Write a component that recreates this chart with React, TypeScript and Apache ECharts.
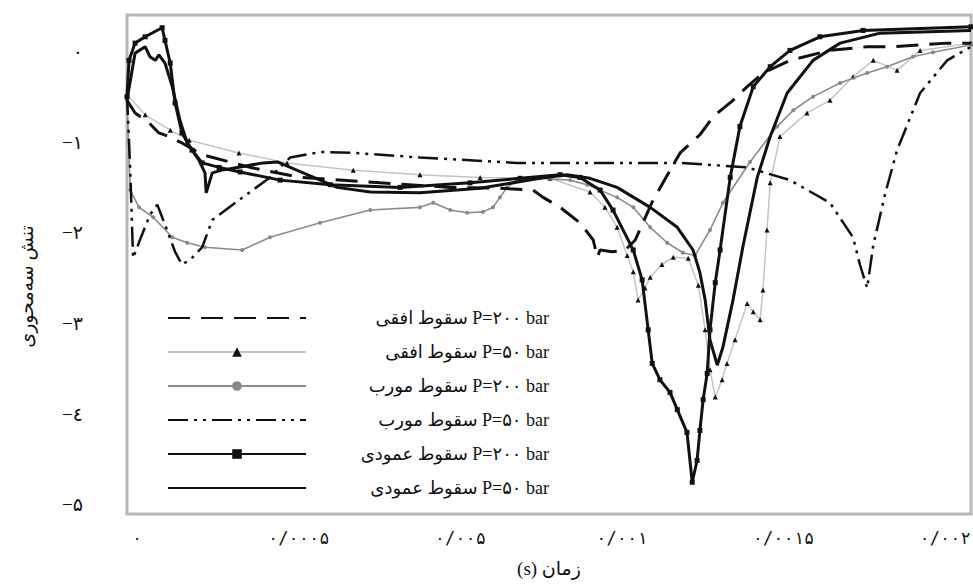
import { useEffect, useRef } from "react";
import * as echarts from "echarts";

const FONT = "'Liberation Serif', 'DejaVu Sans', serif";
const DIGIT_FONT = "'DejaVu Sans Mono', 'DejaVu Sans', serif";

const seriesNames = [
  "سقوط افقی P=۲۰۰ bar",
  "سقوط افقی P=۵۰ bar",
  "سقوط مورب P=۲۰۰ bar",
  "سقوط مورب P=۵۰ bar",
  "سقوط عمودی P=۲۰۰ bar",
  "سقوط عمودی P=۵۰ bar",
];

const xTickValues = [0, 0.0004, 0.0008, 0.0012, 0.0016, 0.002];
const xTickLabels = ["۰", "۰/۰۰۰۵", "۰/۰۰۵", "۰/۰۰۱", "۰/۰۰۱۵", "۰/۰۰۲"];
const yTickValues = [0, -1, -2, -3, -4, -5];
const yTickLabels = ["۰", "−۱", "−۲", "−۳", "−٤", "−۵"];

const xAxisTitle = "\u2067زمان (s)\u2069";
const yAxisTitle = "تنش سه‌محوری";

// horizontal fall, P=200 bar
const horizontal200 = [
  [-0.000025, -0.54], [-0.000005, -0.68], [0.00003, -0.79], [0.000054, -0.9],
  [0.000079, -0.94], [0.000111, -1.01], [0.000161, -1.14], [0.00028, -1.28],
  [0.000403, -1.39], [0.000601, -1.45], [0.000775, -1.5], [0.000898, -1.51],
  [0.00098, -1.53], [0.001005, -1.61], [0.001047, -1.72], [0.001096, -1.89],
  [0.001129, -2.08], [0.001139, -2.27], [0.001146, -2.19], [0.001176, -2.21],
  [0.001208, -2.19], [0.001233, -2.08], [0.001277, -1.64], [0.001344, -1.12],
  [0.001393, -0.92], [0.001426, -0.72], [0.001475, -0.54], [0.00151, -0.39],
  [0.001549, -0.24], [0.001616, -0.1], [0.001715, 0.01], [0.001807, 0.05],
  [0.001871, 0.05], [0.002005, 0.09], [0.002064, 0.09],
];

// horizontal fall, P=50 bar
const horizontal50 = [
  [-0.000025, -0.48], [0.00002, -0.7], [0.000082, -0.87], [0.000129, -0.98],
  [0.000252, -1.12], [0.000371, -1.23], [0.000535, -1.31], [0.0007, -1.36],
  [0.000849, -1.39], [0.001022, -1.4], [0.001121, -1.55], [0.001158, -1.72],
  [0.001188, -1.94], [0.001213, -2.25], [0.001228, -2.43], [0.00124, -2.74],
  [0.001257, -2.61], [0.00127, -2.49], [0.001299, -2.35], [0.001327, -2.27],
  [0.001364, -2.28], [0.001389, -2.58], [0.001406, -3.07], [0.001418, -3.51],
  [0.001431, -3.81], [0.001448, -3.62], [0.00146, -3.44], [0.00148, -3.18],
  [0.00151, -2.78], [0.001525, -2.87], [0.001542, -2.96], [0.001549, -2.63],
  [0.001559, -1.97], [0.001567, -1.45], [0.001591, -0.94], [0.001658, -0.68],
  [0.001715, -0.54], [0.001772, -0.28], [0.001822, -0.1], [0.001881, -0.21],
  [0.001938, 0.01], [0.002064, 0.09],
];

// oblique fall, P=200 bar
const oblique200 = [
  [-0.000025, -0.54], [-0.000017, -1.53], [0.000005, -1.72], [0.00004, -1.83],
  [0.000087, -2.05], [0.000124, -2.11], [0.000168, -2.16], [0.00026, -2.19],
  [0.000329, -2.05], [0.000453, -1.89], [0.000577, -1.75], [0.0007, -1.72],
  [0.000733, -1.67], [0.000775, -1.75], [0.000817, -1.78], [0.000856, -1.77],
  [0.000881, -1.72], [0.000898, -1.61], [0.000916, -1.5], [0.00094, -1.42],
  [0.000997, -1.4], [0.001072, -1.42], [0.001114, -1.47], [0.001188, -1.61],
  [0.001228, -1.72], [0.00127, -1.94], [0.001312, -2.11], [0.001351, -2.22],
  [0.001381, -2.25], [0.001418, -1.97], [0.00145, -1.67], [0.001517, -1.22],
  [0.001584, -0.83], [0.001624, -0.65], [0.001673, -0.5], [0.00174, -0.35],
  [0.001807, -0.24], [0.001856, -0.17], [0.00192, -0.06], [0.00197, -0.01],
  [0.002064, 0.07],
];

// oblique fall, P=50 bar
const oblique50 = [
  [-0.000025, -0.48], [-0.000017, -1.31], [-0.00001, -2.28], [0.000007, -2.08],
  [0.000032, -1.8], [0.00005, -1.69], [0.000069, -1.91], [0.000094, -2.21],
  [0.000111, -2.35], [0.000131, -2.3], [0.000161, -2.16], [0.000186, -1.86],
  [0.000252, -1.64], [0.000329, -1.39], [0.000379, -1.17], [0.000453, -1.11],
  [0.000535, -1.12], [0.0007, -1.17], [0.00094, -1.23], [0.001146, -1.23],
  [0.001344, -1.23], [0.00151, -1.28], [0.001616, -1.42], [0.001715, -1.67],
  [0.001772, -2.05], [0.001789, -2.35], [0.001807, -2.61], [0.001822, -2.14],
  [0.001851, -1.58], [0.001881, -1.09], [0.001938, -0.46], [0.002005, -0.1],
  [0.002064, 0.05],
];

// vertical fall, P=200 bar
const vertical200 = [
  [-0.000025, -0.5], [-0.00002, -0.1], [-0.000005, 0.09], [0.00002, 0.16],
  [0.000062, 0.26], [0.000069, 0.12], [0.000082, -0.13], [0.000094, -0.57],
  [0.000111, -0.9], [0.000136, -1.09], [0.000161, -1.23], [0.000203, -1.28],
  [0.000255, -1.33], [0.000354, -1.42], [0.000478, -1.47], [0.000651, -1.5],
  [0.000824, -1.45], [0.000948, -1.4], [0.001047, -1.36], [0.001096, -1.39],
  [0.001146, -1.53], [0.001178, -1.75], [0.001228, -2.19], [0.00125, -2.52],
  [0.001265, -3.07], [0.001275, -3.44], [0.001294, -3.62], [0.001319, -3.76],
  [0.001337, -3.95], [0.001361, -4.2], [0.001374, -4.75], [0.001386, -4.51],
  [0.001393, -4.18], [0.001401, -3.84], [0.001411, -3.55], [0.001418, -3.07],
  [0.001431, -2.55], [0.001443, -2.19], [0.001468, -1.39], [0.001492, -0.83],
  [0.001525, -0.39], [0.001567, -0.17], [0.001616, 0.01], [0.00169, 0.16],
  [0.001797, 0.23], [0.002064, 0.27],
];

// vertical fall, P=50 bar
const vertical50 = [
  [-0.000025, -0.54], [-0.000005, -0.02], [0.00002, 0.05], [0.000032, -0.06],
  [0.000045, -0.1], [0.000054, -0.04], [0.000069, -0.13], [0.000087, -0.39],
  [0.000106, -0.76], [0.000124, -1.01], [0.000153, -1.2], [0.000168, -1.34],
  [0.000171, -1.56], [0.000186, -1.34], [0.00021, -1.31], [0.000248, -1.28],
  [0.000312, -1.23], [0.000347, -1.22], [0.000411, -1.34], [0.000495, -1.5],
  [0.000577, -1.55], [0.0007, -1.56], [0.000849, -1.51], [0.000997, -1.4],
  [0.001064, -1.36], [0.001121, -1.4], [0.001188, -1.5], [0.00127, -1.72],
  [0.001337, -1.94], [0.001376, -2.19], [0.001393, -2.44], [0.001406, -2.74],
  [0.001418, -3.18], [0.001436, -3.46], [0.00145, -3.26], [0.001475, -2.74],
  [0.0015, -2.14], [0.001535, -1.39], [0.001567, -0.94], [0.001609, -0.46],
  [0.001673, -0.1], [0.00174, 0.09], [0.001839, 0.2], [0.002064, 0.23],
];

function lookup(values: number[], labels: string[], v: number) {
  const i = values.findIndex((t) => Math.abs(t - v) < 1e-9);
  return i >= 0 ? labels[i] : "";
}

export default function App() {
  const ref = useRef<HTMLDivElement>(null);

  useEffect(() => {
    if (!ref.current) return;
    const chart = echarts.init(ref.current, undefined, { renderer: "svg" });
    const noMarker = { itemStyle: { opacity: 0 } };
    const option: any = {
      animation: false,
      backgroundColor: "#ffffff",
      textStyle: { fontFamily: FONT },
      grid: {
        left: 127,
        right: 2,
        top: 15,
        bottom: 71,
        show: true,
        borderColor: "#b8b8b8",
        borderWidth: 3,
        backgroundColor: "transparent",
        outerBoundsMode: "none",
      },
      xAxis: {
        type: "value",
        min: -0.000025,
        max: 0.002064,
        name: xAxisTitle,
        nameLocation: "middle",
        nameGap: 45,
        nameTextStyle: { fontFamily: FONT, fontSize: 19, color: "#111" },
        axisLine: { show: false },
        axisTick: { show: false },
        splitLine: { show: false },
        axisLabel: {
          customValues: xTickValues,
          formatter: (v: number) => lookup(xTickValues, xTickLabels, v),
          fontFamily: DIGIT_FONT,
          fontSize: 17,
          color: "#111",
          margin: 15,
        },
      },
      yAxis: {
        type: "value",
        min: -5.1,
        max: 0.4,
        name: yAxisTitle,
        nameLocation: "middle",
        nameGap: 91,
        nameTextStyle: { fontFamily: FONT, fontSize: 19, color: "#111", padding: [0, 44, 0, 0] },
        axisLine: { show: false },
        axisTick: { show: false },
        splitLine: { show: false },
        axisLabel: {
          customValues: yTickValues,
          formatter: (v: number) => lookup(yTickValues, yTickLabels, v),
          fontFamily: FONT,
          fontSize: 19,
          color: "#111",
          margin: 44,
          align: "right",
        },
      },
      legend: {
        orient: "vertical",
        left: 162,
        top: 303,
        itemWidth: 138,
        itemHeight: 12,
        itemGap: 14,
        selectedMode: false,
        data: [
          { name: seriesNames[0], ...noMarker },
          { name: seriesNames[1] },
          { name: seriesNames[2] },
          { name: seriesNames[3], ...noMarker },
          { name: seriesNames[4] },
          { name: seriesNames[5], ...noMarker },
        ],
        formatter: (n: string) => `{t|${n}}`,
        textStyle: {
          rich: {
            t: {
              width: 238,
              height: 20,
              align: "right",
              fontSize: 18,
              fontFamily: FONT,
              color: "#111",
              lineHeight: 20,
            },
          },
        },
      },
      series: [
        {
          name: seriesNames[1],
          type: "line",
          data: horizontal50,
          symbol: "triangle",
          symbolSize: 5,
          itemStyle: { color: "#111" },
          lineStyle: { color: "#c4c4c4", width: 1.5 },
          z: 2,
        },
        {
          name: seriesNames[2],
          type: "line",
          data: oblique200,
          symbol: "circle",
          symbolSize: 4,
          itemStyle: { color: "#888" },
          lineStyle: { color: "#8c8c8c", width: 1.6 },
          z: 3,
        },
        {
          name: seriesNames[0],
          type: "line",
          data: horizontal200,
          symbol: "none",
          itemStyle: { color: "#111" },
          lineStyle: { color: "#111", width: 3, type: [22, 11] },
          z: 4,
        },
        {
          name: seriesNames[3],
          type: "line",
          data: oblique50,
          symbol: "none",
          itemStyle: { color: "#111" },
          lineStyle: { color: "#111", width: 2.5, type: [20, 6, 3, 6, 3, 6] },
          z: 4,
        },
        {
          name: seriesNames[5],
          type: "line",
          data: vertical50,
          symbol: "none",
          itemStyle: { color: "#111" },
          lineStyle: { color: "#111", width: 3 },
          z: 5,
        },
        {
          name: seriesNames[4],
          type: "line",
          data: vertical200,
          symbol: "rect",
          symbolSize: 5,
          itemStyle: { color: "#111" },
          lineStyle: { color: "#111", width: 3 },
          z: 6,
        },
      ],
    };
    chart.setOption(option);
    return () => chart.dispose();
  }, []);

  return (
    <div
      ref={ref}
      style={{ position: "fixed", left: 0, top: 0, width: 973, height: 585, background: "#fff" }}
    />
  );
}
